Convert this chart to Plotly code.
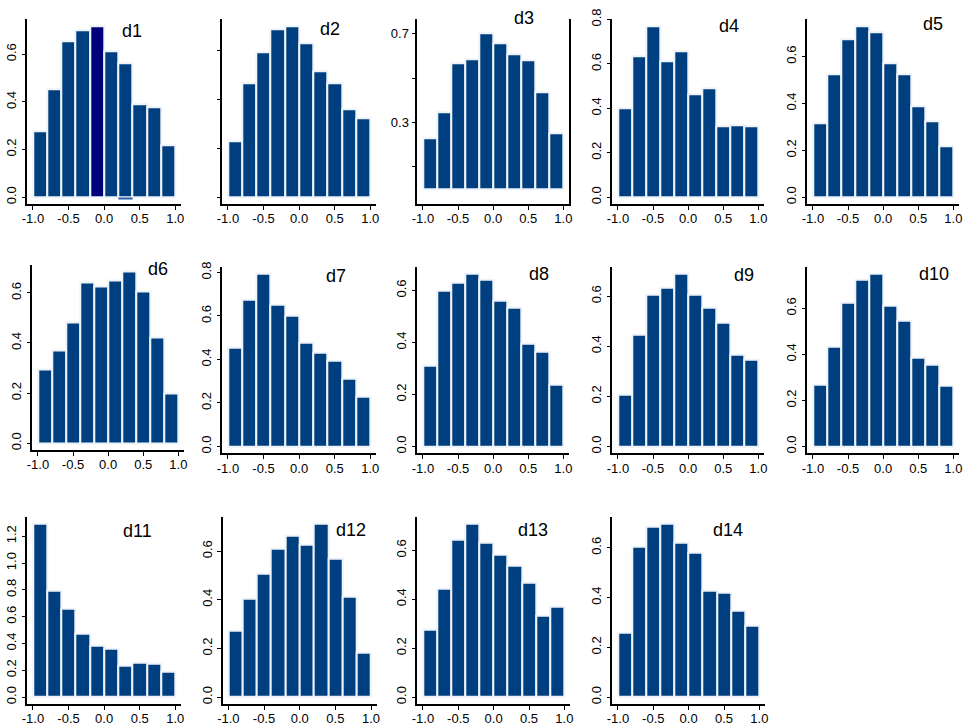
import plotly.graph_objects as go

W, H = 965, 726

bin_centers = [-0.9, -0.7, -0.5, -0.3, -0.1, 0.1, 0.3, 0.5, 0.7, 0.9]
x_ticks = [-1.0, -0.5, 0.0, 0.5, 1.0]
x_tick_labels = ["-1.0", "-0.5", "0.0", "0.5", "1.0"]
y_ticks_all = [0.0, 0.2, 0.4, 0.6, 0.8, 1.0, 1.2]

d1 = [0.277, 0.454, 0.653, 0.701, 0.718, 0.614, 0.561, 0.388, 0.377, 0.217]
d2 = [0.229, 0.467, 0.596, 0.691, 0.702, 0.630, 0.515, 0.467, 0.361, 0.323]
d3 = [0.230, 0.347, 0.565, 0.583, 0.700, 0.658, 0.607, 0.578, 0.437, 0.252]
d4 = [0.399, 0.633, 0.770, 0.611, 0.656, 0.462, 0.492, 0.321, 0.324, 0.317]
d5 = [0.315, 0.523, 0.672, 0.730, 0.702, 0.570, 0.526, 0.389, 0.323, 0.217]
d6 = [0.293, 0.369, 0.480, 0.642, 0.626, 0.650, 0.686, 0.604, 0.420, 0.200]
d7 = [0.454, 0.676, 0.795, 0.650, 0.600, 0.475, 0.429, 0.393, 0.311, 0.227]
d8 = [0.310, 0.600, 0.630, 0.665, 0.642, 0.562, 0.534, 0.396, 0.363, 0.239]
d9 = [0.205, 0.445, 0.605, 0.635, 0.690, 0.606, 0.552, 0.492, 0.367, 0.348]
d10 = [0.266, 0.435, 0.623, 0.725, 0.751, 0.610, 0.546, 0.387, 0.354, 0.262]
d11 = [1.294, 0.792, 0.657, 0.475, 0.380, 0.362, 0.232, 0.260, 0.249, 0.189]
d12 = [0.273, 0.403, 0.509, 0.608, 0.662, 0.628, 0.713, 0.567, 0.411, 0.184]
d13 = [0.277, 0.441, 0.645, 0.709, 0.633, 0.580, 0.536, 0.469, 0.332, 0.369]
d14 = [0.259, 0.604, 0.683, 0.697, 0.620, 0.580, 0.429, 0.421, 0.348, 0.287]

names = ["d1", "d2", "d3", "d4", "d5", "d6", "d7", "d8", "d9", "d10",
         "d11", "d12", "d13", "d14"]
series = [d1, d2, d3, d4, d5, d6, d7, d8, d9, d10, d11, d12, d13, d14]

# d1 highlighted bin and a stray segment under bin 7
d1_highlight_index = 4
d1_segment_x = [0.2, 0.4]
d1_segment_y = [-0.006, -0.006]

BAR = "#003f7f"
HIGHLIGHT = "#00007a"

# plot regions in pixels: left, right, top, bottom
boxes = [
    (27.3, 181, 19.3, 204), (222.3, 376, 19.3, 204), (417.3, 569, 19.3, 204),
    (612.3, 764, 19.3, 204), (807.3, 959, 19.3, 204),
    (32.3, 184, 264.5, 450), (222.3, 376, 266.7, 453.3), (417.3, 569, 266.7, 453.3),
    (612.3, 764, 266.7, 453.3), (807.3, 959, 266.7, 453.3),
    (27.3, 181, 516.7, 704), (222.7, 376.7, 516.7, 704), (417.3, 570, 516.7, 704),
    (612.3, 765, 516.7, 704),
]
# title label centres in pixels
title_pos = [
    (131.7, 31), (329.5, 29), (523.5, 18), (728.7, 26), (932.5, 24),
    (158, 269), (336, 276), (539, 274), (744, 275), (933.7, 274),
    (137.5, 531), (351, 530), (533.3, 530), (728.3, 530),
]

fig = go.Figure()
layout = {}
annotations = []
for i, (nm, vals) in enumerate(zip(names, series)):
    k = "" if i == 0 else str(i + 1)
    colors = [BAR] * len(vals)
    if nm == "d1":
        colors[d1_highlight_index] = HIGHLIGHT
    fig.add_trace(go.Bar(
        x=bin_centers, y=vals, width=0.2,
        marker=dict(color=colors, line=dict(color="#eef3f9", width=2)),
        xaxis="x" + k, yaxis="y" + k, showlegend=False, hoverinfo="y"))
    if nm == "d1":
        fig.add_trace(go.Scatter(
            x=d1_segment_x, y=d1_segment_y, mode="lines",
            line=dict(color="#2a5caa", width=2),
            xaxis="x", yaxis="y", showlegend=False))
    l, r, t, b = boxes[i]
    m = max(vals)
    yr = [-0.04 * m, 1.04 * m]
    ya = dict(domain=[1 - b / H, 1 - t / H], anchor="x" + k, range=yr,
              showline=True, linecolor="black", linewidth=1.5,
              ticks="outside", ticklen=4, tickwidth=1, tickcolor="black",
              showgrid=False, zeroline=False, tickangle=-90, tickmode="array",
              automargin=False)
    tv = [v for v in y_ticks_all if v <= yr[1] + 1e-9]
    ya["tickvals"] = tv
    ya["ticktext"] = ["%.1f" % v for v in tv]
    if nm == "d2":
        ya["showticklabels"] = False
    if nm == "d3":
        ya["range"] = [-0.068, 0.765]
        ya["tickvals"] = [0.1, 0.3, 0.5, 0.7]
        ya["ticktext"] = ["", "0.3", "", "0.7"]
        ya["tickangle"] = 0
        ya["mirror"] = True
    xa = dict(domain=[l / W, r / W], anchor="y" + k, range=[-1.08, 1.08],
              showline=True, linecolor="black", linewidth=1.5,
              ticks="outside", ticklen=4, tickwidth=1, tickcolor="black",
              showgrid=False, zeroline=False, tickmode="array",
              tickvals=x_ticks, ticktext=x_tick_labels, tickangle=0,
              automargin=False, ticklabelstandoff=-2)
    layout["xaxis" + k] = xa
    layout["yaxis" + k] = ya
    tx, ty = title_pos[i]
    annotations.append(dict(x=tx / W, y=1 - ty / H, xref="paper", yref="paper",
                            text=nm, showarrow=False, xanchor="center", yanchor="middle",
                            font=dict(size=18, color="black")))

fig.update_layout(**layout)
fig.update_layout(
    template="none",
    width=W, height=H, margin=dict(l=0, r=0, t=0, b=0, pad=0, autoexpand=False),
    paper_bgcolor="white", plot_bgcolor="white",
    font=dict(family="Liberation Sans, Arial, sans-serif", size=13, color="black"),
    bargap=0, annotations=annotations,
)
fig.write_html("out.html", config={"displayModeBar": False},
               post_script="document.body.style.margin='0';document.body.style.padding='0';document.body.style.overflow='hidden';")
